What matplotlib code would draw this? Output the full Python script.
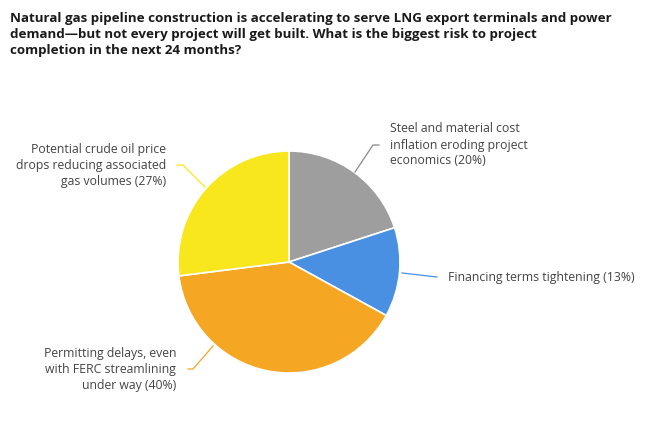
import matplotlib
matplotlib.use("Agg")
import matplotlib.pyplot as plt

plt.rcParams['font.family'] = ['Open Sans', 'DejaVu Sans']

title = ("Natural gas pipeline construction is accelerating to serve LNG export terminals and power\n"
         "demand\u2014but not every project will get built. What is the biggest risk to project\n"
         "completion in the next 24 months?")

labels = ["Steel and material cost\ninflation eroding project\neconomics (20%)",
          "Financing terms tightening (13%)",
          "Permitting delays, even\nwith FERC streamlining\nunder way (40%)",
          "Potential crude oil price\ndrops reducing associated\ngas volumes (27%)"]
values = [20, 13, 40, 27]
colors = ["#9e9e9e", "#4a90e2", "#f5a623", "#f8e71c"]

W, H = 650, 433
fig = plt.figure(figsize=(W / 100, H / 100), dpi=100)
ax = fig.add_axes([0, 0, 1, 1])

def Y(y):
    return H - y

ax.pie(values, colors=colors, startangle=90, counterclock=False,
       center=(289, Y(262)), radius=111,
       wedgeprops=dict(edgecolor="white", linewidth=1.2))

ax.set_xlim(0, W)
ax.set_ylim(0, H)
ax.set_aspect('equal')
ax.axis('off')

fig.text(10 / W, 1 - 12 / H, title, ha='left', va='top', fontsize=9.6,
         fontweight='bold', color='#1a1a1a', linespacing=1.32)

# label text anchor, alignment, leader line (start at pie, end at text)
label_pos = [(390, 145, 'left', [(355, 172), (373, 145), (379, 145)]),
             (448, 277, 'left', [(402, 273), (437, 277)]),
             (176, 369, 'right', [(213, 346), (193, 369), (188, 369)]),
             (166, 166, 'right', [(205, 187), (183, 165), (177, 165)])]

for lab, col, (tx, ty, ha, pts) in zip(labels, colors, label_pos):
    ax.text(tx, Y(ty), lab, ha=ha, va='center', multialignment=ha,
            fontsize=8.8, color='#444444', linespacing=1.3)
    ax.plot([p[0] for p in pts], [Y(p[1]) for p in pts],
            color='#888888' if col == "#9e9e9e" else col, lw=0.9)

fig.savefig("out.png", dpi=100, facecolor='white')
